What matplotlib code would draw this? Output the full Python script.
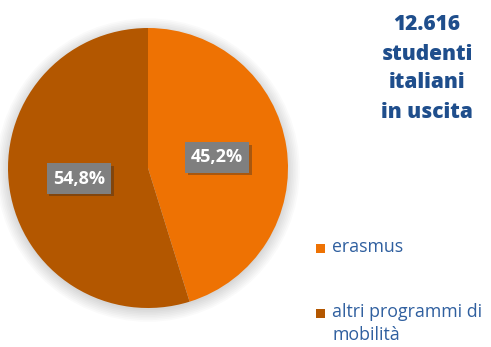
import matplotlib.pyplot as plt
import matplotlib.patheffects as pe
from matplotlib.patches import Circle, Rectangle

# mobility split of outgoing Italian students
categories = ["erasmus", "altri programmi di\nmobilità"]
shares = [45.2, 54.8]
colors = ["#EE7203", "#B35700"]
title_lines = ["12.616", "studenti", "italiani", "in uscita"]

W, H = 491, 347
fig = plt.figure(figsize=(W / 100, H / 100), dpi=100)
fig.patch.set_facecolor("white")

# pie axes placed in pixel units: centre (148, 168), radius 140
cx, cy, r = 148, 168, 140
ax = fig.add_axes([(cx - r) / W, (H - cy - r) / H, 2 * r / W, 2 * r / H])
ax.axis("off")

# soft shadow under the pie
for i in range(8):
    ax.add_patch(Circle((0, -0.015), 1.0 + 0.012 * i, color="black",
                        alpha=0.018, lw=0, zorder=0, clip_on=False))

wedges, _, autotexts = ax.pie(
    shares, colors=colors, startangle=90, counterclock=False, radius=1,
    autopct=lambda p: f"{p:.1f}%".replace(".", ","), pctdistance=0.5,
    wedgeprops=dict(linewidth=0),
    textprops=dict(color="white", fontsize=13, fontweight="bold",
                   family="Open Sans"),
)
ax.set_xlim(-1, 1)
ax.set_ylim(-1, 1)
ax.set_aspect("equal")

for t in autotexts:
    t.set_bbox(dict(boxstyle="square,pad=0.34", facecolor="#7F7F7F",
                    edgecolor="none"))
    t.get_bbox_patch().set_path_effects(
        [pe.SimplePatchShadow(offset=(2, -2), alpha=0.35), pe.Normal()])

# headline on the right
for i, line in enumerate(title_lines):
    fig.text(427 / W, 1 - (25 + 29 * i) / H, line, ha="center", va="center",
             fontsize=15, fontweight="heavy", color="#1F4E8C",
             family="Open Sans")

# legend drawn by hand
legend_y = [248, 313]
for lab, col, y in zip(categories, colors, legend_y):
    s = 9
    fig.patches.append(Rectangle((316 / W, 1 - (y + s / 2) / H), s / W, s / H,
                                 transform=fig.transFigure, facecolor=col,
                                 edgecolor="none"))
    fig.text(332 / W, 1 - (y - 10) / H, lab, ha="left", va="top",
             fontsize=12.8, color="#2F5F9F", family="Open Sans",
             linespacing=1.35)

fig.savefig("out.png", dpi=100)
